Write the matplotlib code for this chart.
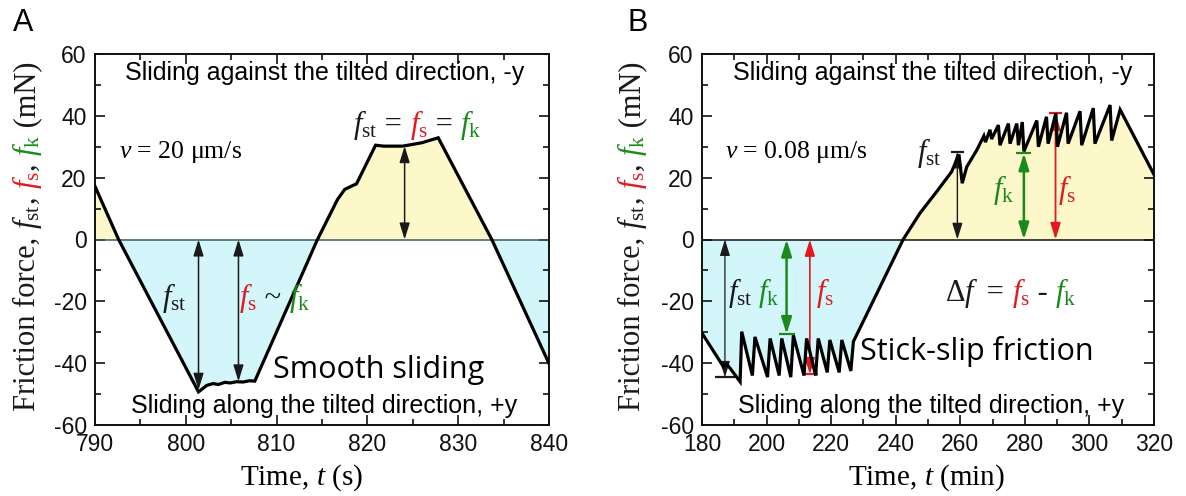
import matplotlib
matplotlib.use('Agg')
import matplotlib.pyplot as plt
import numpy as np
from matplotlib.transforms import IdentityTransform
from matplotlib.ticker import MultipleLocator

plt.rcParams['mathtext.fontset'] = 'custom'
plt.rcParams['mathtext.rm'] = 'Liberation Serif'
plt.rcParams['mathtext.it'] = 'Liberation Serif:italic'
plt.rcParams['font.family'] = 'Liberation Sans'
plt.rcParams['axes.unicode_minus'] = False

# ---------------- data ----------------
# Panel A: smooth sliding, time in s, force in mN
tA = [790, 792.6, 801.4, 802.3, 803.0, 803.6, 804.3, 804.9, 805.6, 806.3, 807.0, 807.6,
      814.5, 816.7, 817.5, 818.2, 818.8, 820.9, 821.8, 823.9, 826.0, 827.8, 833.7, 840]
fA = [17.2, 0, -49.3, -47.2, -46.6, -46.9, -46.2, -46.4, -46.0, -46.1, -45.7, -45.8,
      0, 12.9, 16.2, 17.2, 18.0, 30.5, 30.2, 30.2, 31.3, 32.9, 0, -40.1]

# Panel B: stick-slip friction, time in min, force in mN
tB = [180, 186.6, 187.5, 188.6, 191.8,
      192.3, 195.6, 196.4, 200.3, 201.1, 203.9, 204.7, 207.5, 208.3, 211.6, 212.4,
      215.2, 216.0, 218.8, 219.6, 222.5, 223.3, 226.1, 226.9,
      242.3, 247.5, 252.7, 257.3, 259.6, 260.6, 262.0, 265.1, 267.3, 267.8,
      269.2, 269.7, 271.8, 272.3, 274.9, 275.4, 277.5, 278.0, 279.2, 279.7,
      283.7, 284.2, 286.7, 287.2, 289.6, 290.1, 292.9, 293.4, 297.1, 297.6,
      301.2, 301.7, 306.4, 306.9, 309.5, 320]
fB = [-30.3, -41.1, -40.2, -41.5, -46.0,
      -29.8, -44.0, -31.5, -44.5, -32.0, -44.0, -32.0, -44.5, -31.0, -44.0, -32.0,
      -44.0, -32.0, -43.0, -32.5, -43.0, -32.5, -42.5, -33.0,
      0, 8.5, 15.5, 21.9, 27.5, 18.2, 23.5, 28.9, 33.5, 31.5,
      35.5, 32.5, 37.0, 30.5, 37.5, 31.0, 37.5, 30.5, 38.0, 28.5,
      38.5, 30.0, 39.7, 31.0, 40.8, 30.0, 41.0, 31.0, 41.5, 30.5,
      42.5, 31.0, 43.5, 32.0, 42.0, 21.0]

# annotation arrows (x position, tip value)
arrA_x = [801.4, 805.8, 824.1]
arrA_y = [-48.6, -45.9, 30.2]
arrB_x = [187.1, 206.2, 213.4, 259.1, 279.7, 289.5]
arrB_y = [-44.6, -30.6, -43.6, 28.4, 27.9, 40.8]

RED = '#e3191f'
GREEN = '#1b8a1b'
BLACK = '#1a1a1a'
YELLOW = '#fdf8c9'
BLUE = '#d3f6fa'

W, H = 1186, 496
fig = plt.figure(figsize=(W / 100, H / 100), dpi=100)
renderer = fig.canvas.get_renderer()
PIX = IdentityTransform()

axA = fig.add_axes([95 / W, (H - 425) / H, 454 / W, 371 / H])
axB = fig.add_axes([702 / W, (H - 425) / H, 452 / W, 371 / H])


def style_axes(ax, xlim, xmaj, xmin):
    ax.set_xlim(*xlim)
    ax.set_ylim(-60, 60)
    ax.xaxis.set_major_locator(MultipleLocator(xmaj))
    ax.xaxis.set_minor_locator(MultipleLocator(xmin))
    ax.yaxis.set_major_locator(MultipleLocator(20))
    ax.yaxis.set_minor_locator(MultipleLocator(10))
    ax.tick_params(which='both', direction='in', top=True, right=True, width=1.2,
                   labelsize=16.5, colors='#111111')
    ax.tick_params(which='major', length=7, pad=6)
    ax.tick_params(which='minor', length=4)
    for s in ax.spines.values():
        s.set_linewidth(1.4)
        s.set_color('#111111')


style_axes(axA, (790, 840), 10, 5)
style_axes(axB, (180, 320), 20, 10)

# fills and curves
for ax, t, f, zc in ((axA, tA, fA, '#3c5c62'), (axB, tB, fB, '#111111')):
    t_arr = np.array(t, float)
    f_arr = np.array(f, float)
    ax.fill_between(t_arr, f_arr, 0, where=f_arr >= 0, interpolate=True, color=YELLOW, lw=0, zorder=1)
    ax.fill_between(t_arr, f_arr, 0, where=f_arr <= 0, interpolate=True, color=BLUE, lw=0, zorder=1)
    ax.axhline(0, color=zc, lw=1.1, zorder=2)
    ax.plot(t_arr, f_arr, color='black', lw=2.3, zorder=4, solid_joinstyle='miter')


def darrow(ax, x, y, color, lw):
    ax.annotate('', xy=(x, y), xytext=(x, 0),
                arrowprops=dict(arrowstyle='<|-|>,head_length=0.9,head_width=0.28',
                                color=color, lw=lw, shrinkA=0, shrinkB=0,
                                mutation_scale=11), zorder=3)


for x, y in zip(arrA_x, arrA_y):
    darrow(axA, x, y, BLACK, 1.1)

colsB = [BLACK, GREEN, RED, BLACK, GREEN, RED]
lwsB = [0.9, 1.8, 1.2, 1.0, 1.8, 1.3]
halfB = [3.1, 2.5, 2.4, 2.0, 2.3, 2.1]
for x, y, c, lw, hw in zip(arrB_x, arrB_y, colsB, lwsB, halfB):
    darrow(axB, x, y, c, lw)
    axB.plot([x - hw, x + hw], [y, y], color=c, lw=1.6, zorder=3, solid_capstyle='butt')


def pieces(ax, x, y, parts, size, family='Liberation Serif', data=True, rotation=0):
    if data:
        px, py = ax.transData.transform((x, y))
    else:
        px, py = x, y
    for s, c in parts:
        t = fig.text(px, py, s, color=c, fontsize=size, family=family,
                     transform=PIX, ha='left', va='baseline',
                     rotation=rotation, rotation_mode='anchor', zorder=6)
        bb = t.get_window_extent(renderer)
        if rotation == 0:
            px = bb.x1
        else:
            py = bb.y1


def measure(parts, size, family='Liberation Serif'):
    total = 0
    for s, c in parts:
        t = fig.text(0, 0, s, fontsize=size, family=family, transform=PIX)
        total += t.get_window_extent(renderer).width
        t.remove()
    return total


FST = r'$f_{\rm st}$'
FS = r'$f_{\rm s}$'
FK = r'$f_{\rm k}$'

# y labels
ylab = [('Friction force, ', BLACK), (FST, BLACK), (', ', BLACK), (FS, RED),
        (', ', BLACK), (FK, GREEN), (' (mN)', BLACK)]
ysz = 22
L = measure(ylab, ysz)
for bx in (35, 640):
    pieces(None, bx, (H - 236) - L / 2, ylab, ysz, data=False, rotation=90)

# x labels
fig.text(301, H - 485, 'Time, $t$ (s)', fontsize=21, family='Liberation Serif',
         ha='center', va='baseline', transform=PIX)
fig.text(926, H - 485, 'Time, $t$ (min)', fontsize=21, family='Liberation Serif',
         ha='center', va='baseline', transform=PIX)

# panel letters
fig.text(13, H - 31, 'A', fontsize=22, ha='left', va='baseline', transform=PIX)
fig.text(627, H - 31, 'B', fontsize=22, ha='left', va='baseline', transform=PIX)

# direction notes
for ax, xc in ((axA, 815.3), (axB, 251.4)):
    ax.text(xc, 53.9, 'Sliding against the tilted direction, -y', fontsize=18,
            ha='center', va='center', zorder=6)
for ax, xc in ((axA, 815.2), (axB, 250.8)):
    ax.text(xc, -53.7, 'Sliding along the tilted direction, +y', fontsize=18,
            ha='center', va='center', zorder=6)

axA.text(821.2, -42.3, 'Smooth sliding', fontsize=22, family='Open Sans',
         ha='center', va='center', zorder=6)
axB.text(265.0, -36.3, 'Stick-slip friction', fontsize=22, family='Open Sans',
         ha='center', va='center', zorder=6)

axA.text(792.6, 26.5, r'$v$ = 20 μm/s', fontsize=18.5, family='Liberation Serif',
         ha='left', va='baseline', zorder=6)
axB.text(187.0, 26.5, r'$v$ = 0.08 μm/s', fontsize=18.5, family='Liberation Serif',
         ha='left', va='baseline', zorder=6)

# panel A formula labels
pieces(axA, 818.4, 34.5, [(FST, BLACK), (' = ', BLACK), (FS, RED), (' = ', BLACK), (FK, GREEN)], 22)
pieces(axA, 797.4, -21.5, [(FST, BLACK)], 22)
pieces(axA, 805.9, -21.5, [(FS, RED), (' ~ ', BLACK), (FK, GREEN)], 22)

# panel B formula labels
pieces(axB, 188.1, -20.0, [(FST, BLACK)], 22)
pieces(axB, 197.4, -20.0, [(FK, GREEN)], 22)
pieces(axB, 215.4, -20.0, [(FS, RED)], 22)
pieces(axB, 255.4, -20.0, [(r'Δ$f$', BLACK), (' = ', BLACK), (FS, RED), (' - ', BLACK), (FK, GREEN)], 22)
pieces(axB, 246.5, 25.5, [(FST, BLACK)], 22)
pieces(axB, 270.2, 13.5, [(FK, GREEN)], 22)
pieces(axB, 290.4, 13.5, [(FS, RED)], 22)

fig.savefig('out.png', dpi=100)
